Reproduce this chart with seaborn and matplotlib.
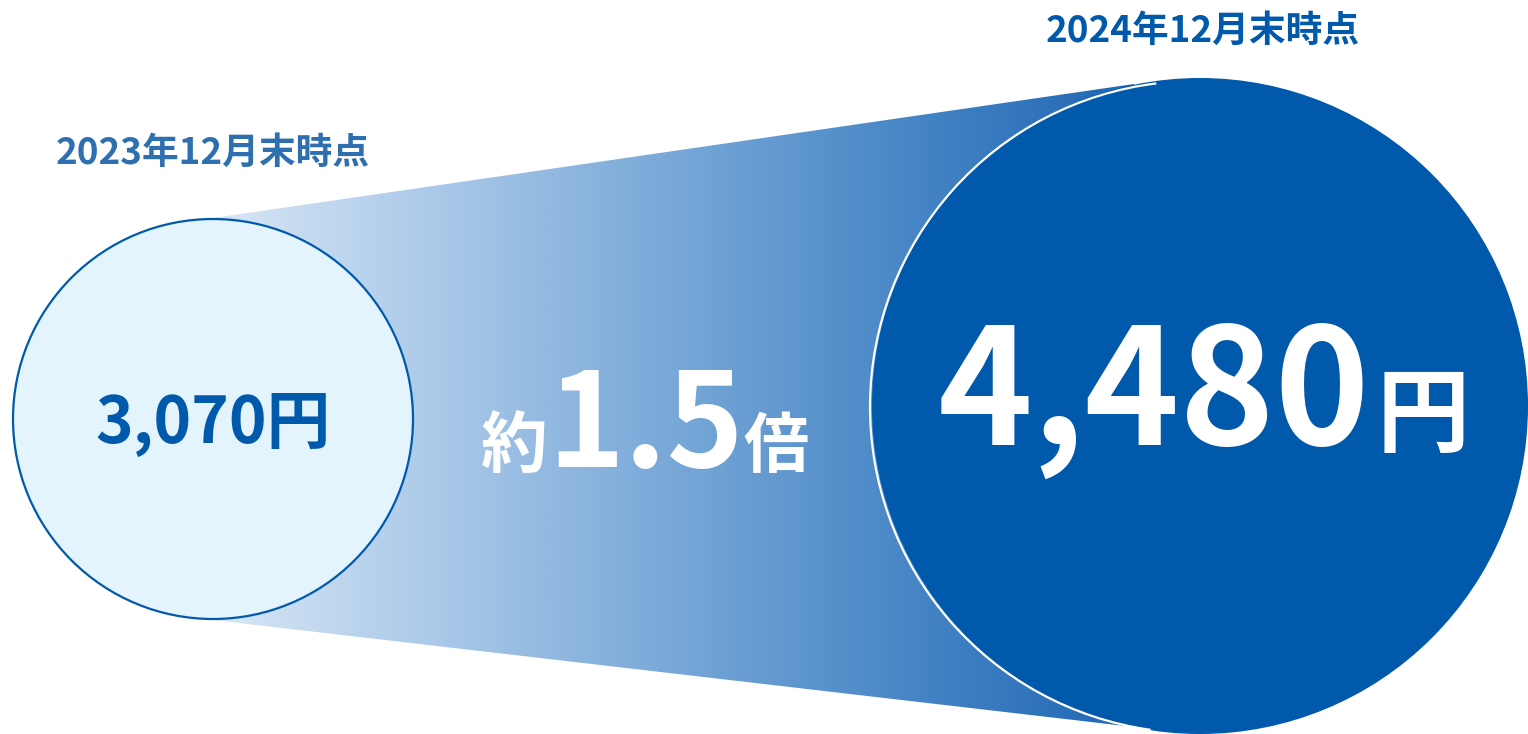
import numpy as np
import matplotlib
matplotlib.use("Agg")
import matplotlib.pyplot as plt
from matplotlib.patches import Circle, Polygon, Arc
from matplotlib.colors import LinearSegmentedColormap
import seaborn as sns

# Values and labels
periods = ["2023年12月末時点", "2024年12月末時点"]
amounts = [3070, 4480]
unit = "円"
ratio_prefix, ratio_value, ratio_suffix = "約", "1.5", "倍"

sns.set_theme(style="white")
plt.rcParams["font.family"] = ["Noto Sans CJK JP", "DejaVu Sans"]

W, H = 1528, 734
fig = plt.figure(figsize=(W / 100, H / 100), dpi=100)
ax = fig.add_axes([0, 0, 1, 1])
ax.set_xlim(0, W)
ax.set_ylim(H, 0)
ax.axis("off")

DARK = "#0059ab"
MID = "#2e6fb0"

# circle geometry (pixels)
c1 = (213, 419)
r1 = 200
c2 = (1200, 406)
r2 = 328

# gradient band joining the two circles
band = [(213, 218), (1134, 84), (1134, 727), (213, 620)]
cmap = LinearSegmentedColormap.from_list(
    "band", ["#d8e7f6", "#a9c8e8", "#78a8d8", "#4887c6", "#1f66b3"])
grad = np.linspace(0, 1, 512)[None, :]
img = ax.imshow(grad, cmap=cmap, extent=(213, 1134, 727, 84), aspect="auto",
                zorder=1, interpolation="bicubic")
poly = Polygon(band, closed=True, facecolor="none", edgecolor="none")
ax.add_patch(poly)
img.set_clip_path(poly)

# small circle
ax.add_patch(Circle(c1, r1, facecolor="#e3f4fc", edgecolor=DARK, lw=1.6, zorder=3))

# large circle with a thin white rim on its left side
ax.add_patch(Circle(c2, r2, facecolor=DARK, edgecolor="none", zorder=3))
ax.add_patch(Arc((c2[0] - 4, c2[1] + 1), 2 * (r2 - 2), 2 * (r2 - 2),
                 theta1=98, theta2=263, color="white", lw=1.6, zorder=4))

# period labels
ax.text(213, 164, periods[0], ha="center", va="baseline", fontsize=26.5,
        fontweight="bold", color=MID, zorder=5)
ax.text(1203, 42, periods[1], ha="center", va="baseline", fontsize=26.5,
        fontweight="bold", color=DARK, zorder=5)

# values
ax.text(c1[0], 443, f"{amounts[0]:,}{unit}", ha="center", va="baseline",
        fontsize=46, fontweight="bold", color=DARK, zorder=5)
ax.text(1370, 445, f"{amounts[1]:,}", ha="right", va="baseline",
        fontsize=116, fontweight="bold", color="white", zorder=5)
ax.text(1377, 445, unit, ha="left", va="baseline",
        fontsize=67, fontweight="bold", color="white", zorder=5)

# growth ratio
ax.text(548, 467, ratio_prefix, ha="right", va="baseline",
        fontsize=48, fontweight="bold", color="white", zorder=5)
ax.text(646, 467, ratio_value, ha="center", va="baseline",
        fontsize=94, fontweight="bold", color="white", zorder=5)
ax.text(743, 467, ratio_suffix, ha="left", va="baseline",
        fontsize=47, fontweight="bold", color="white", zorder=5)

fig.savefig("out.png", dpi=100, facecolor="white")
